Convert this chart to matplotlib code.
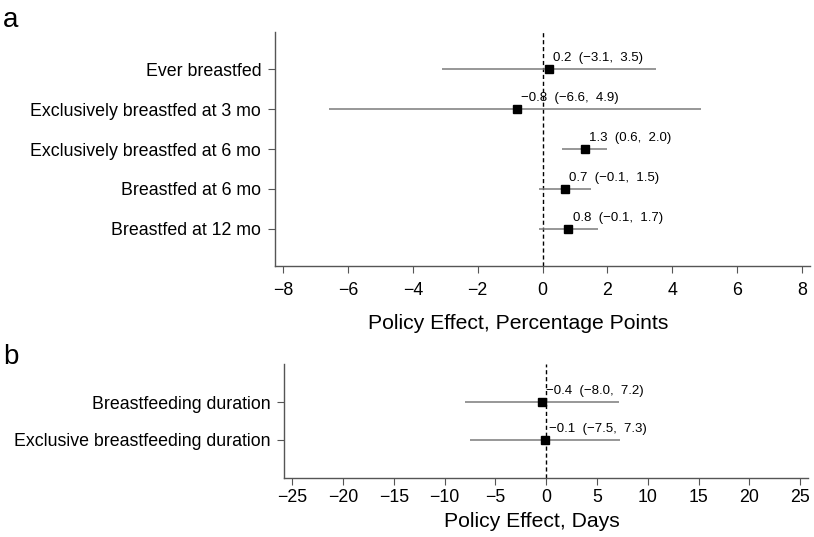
import numpy as np
import matplotlib.pyplot as plt

plt.rcParams["font.family"] = ["Liberation Sans", "DejaVu Sans"]

# panel a: percentage points
labels_a = ["Ever breastfed", "Exclusively breastfed at 3 mo",
            "Exclusively breastfed at 6 mo", "Breastfed at 6 mo",
            "Breastfed at 12 mo"]
est_a = [0.2, -0.8, 1.3, 0.7, 0.8]
lo_a = [-3.1, -6.6, 0.6, -0.1, -0.1]
hi_a = [3.5, 4.9, 2.0, 1.5, 1.7]

# panel b: days
labels_b = ["Breastfeeding duration", "Exclusive breastfeeding duration"]
est_b = [-0.4, -0.1]
lo_b = [-8.0, -7.5]
hi_b = [7.2, 7.3]


def fmt(v):
    return f"{v:.1f}".replace("-", "\u2212")


def forest(ax, labels, est, lo, hi, ylim):
    y = np.arange(1, len(labels) + 1)
    ax.hlines(y, lo, hi, color="#7a7a7a", lw=1.1, zorder=2)
    ax.axvline(0, color="black", ls=(0, (3, 2)), lw=1.0, zorder=1)
    ax.plot(est, y, "s", color="black", ms=5.5, zorder=3)
    for yi, e, l, h in zip(y, est, lo, hi):
        ax.annotate(f"{fmt(e)}  ({fmt(l)},  {fmt(h)})", (e, yi),
                    xytext=(3, 3.5), textcoords="offset points",
                    fontsize=9.5, va="bottom", ha="left")
    ax.set_yticks(y)
    ax.set_yticklabels(labels, fontsize=12.8)
    ax.set_ylim(ylim)
    for s in ["top", "right"]:
        ax.spines[s].set_visible(False)
    for s in ["left", "bottom"]:
        ax.spines[s].set_color("#555555")
        ax.spines[s].set_linewidth(1.0)
    ax.tick_params(axis="both", direction="out", length=5, color="#555555")
    ax.tick_params(axis="x", labelsize=12.8)
    ax.tick_params(axis="y", pad=5)


fig = plt.figure(figsize=(8.14, 5.37), dpi=100)

ax_a = fig.add_axes([0.338, 0.505, 0.657, 0.435])
forest(ax_a, labels_a, est_a, lo_a, hi_a, (5.93, 0.07))
ax_a.set_xlim(-8.25, 8.25)
ax_a.set_xticks(np.arange(-8, 9, 2))
ax_a.set_xticklabels([fmt(v)[:-2] for v in np.arange(-8, 9, 2)])
ax_a.tick_params(axis="x", pad=7)
ax_a.set_xlabel("Policy Effect, Percentage Points", fontsize=15.2)
ax_a.xaxis.set_label_coords(0.454, -0.205)

ax_b = fig.add_axes([0.349, 0.110, 0.644, 0.212])
forest(ax_b, labels_b, est_b, lo_b, hi_b, (3, 0))
ax_b.set_xlim(-25.8, 25.8)
ax_b.set_xticks(np.arange(-25, 26, 5))
ax_b.set_xticklabels([fmt(v)[:-2] for v in np.arange(-25, 26, 5)])
ax_b.tick_params(axis="x", pad=3)
ax_b.set_xlabel("Policy Effect, Days", fontsize=15.2)
ax_b.xaxis.set_label_coords(0.473, -0.30)

fig.text(0.004, 0.963, "a", fontsize=20, va="center", ha="left")
fig.text(0.004, 0.335, "b", fontsize=20, va="center", ha="left")

fig.savefig("out.png", dpi=100)
